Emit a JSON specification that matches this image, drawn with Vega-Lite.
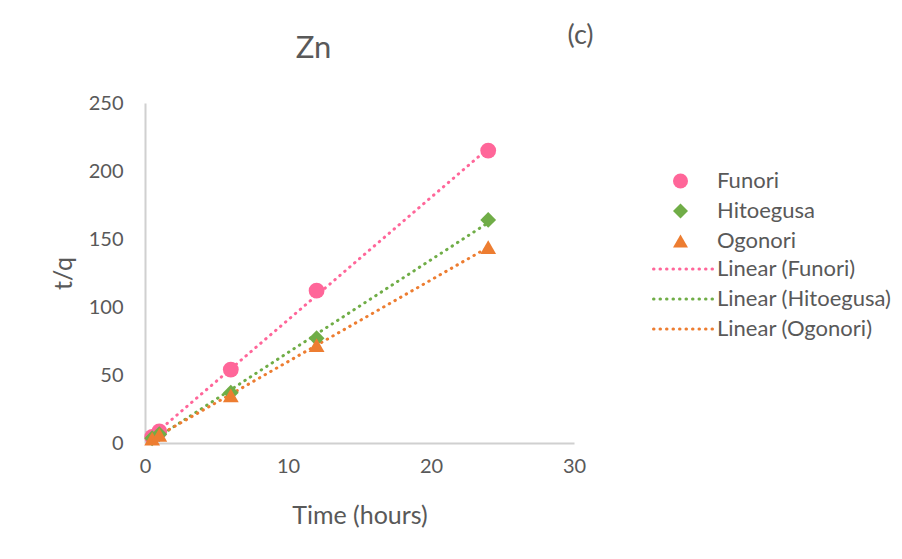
{
  "$schema": "https://vega.github.io/schema/vega-lite/v6.json",
  "autosize": "none",
  "width": 429,
  "height": 340,
  "padding": {"left": 145, "top": 103, "right": 328, "bottom": 116},
  "background": "white",
  "title": {"text": "Zn", "fontSize": 31, "font": "Lato", "fontWeight": "normal", "color": "#595959", "dx": -46, "offset": -44},
  "config": {
    "view": {"stroke": null},
    "font": "Lato",
    "axis": {"labelFont": "Lato", "labelFontSize": 20, "labelColor": "#595959", "labelFlush": false, "titleFont": "Lato", "titleFontSize": 25, "titleFontWeight": "normal", "titleColor": "#595959", "ticks": false, "grid": false, "domainColor": "#d0d0d0", "domainWidth": 2},
    "legend": {"labelFont": "Lato", "labelFontSize": 22, "labelColor": "#595959", "padding": 0, "labelLimit": 400}
  },
  "data": {"values": [
    {"time": 0.5, "value": 4.5, "series": "Funori"},
    {"time": 1, "value": 8.5, "series": "Funori"},
    {"time": 6, "value": 54, "series": "Funori"},
    {"time": 12, "value": 112, "series": "Funori"},
    {"time": 24, "value": 215, "series": "Funori"},
    {"time": 0.5, "value": 3.5, "series": "Hitoegusa"},
    {"time": 1, "value": 6.5, "series": "Hitoegusa"},
    {"time": 6, "value": 37, "series": "Hitoegusa"},
    {"time": 12, "value": 77, "series": "Hitoegusa"},
    {"time": 24, "value": 164, "series": "Hitoegusa"},
    {"time": 0.5, "value": 3.2, "series": "Ogonori"},
    {"time": 1, "value": 6, "series": "Ogonori"},
    {"time": 6, "value": 35, "series": "Ogonori"},
    {"time": 12, "value": 72, "series": "Ogonori"},
    {"time": 24, "value": 144, "series": "Ogonori"}
  ]},
  "resolve": {"axis": {"y": "independent"}},
  "layer": [
    {
      "transform": [
        {"regression": "value", "on": "time", "groupby": ["series"]},
        {"calculate": "'Linear (' + datum.series + ')'", "as": "trend"}
      ],
      "mark": {"type": "line", "strokeWidth": 3, "strokeDash": [0.5, 6], "strokeCap": "round"},
      "encoding": {
        "x": {"field": "time", "type": "quantitative", "scale": {"domain": [0, 30], "nice": false}, "axis": {"values": [0, 10, 20, 30], "title": "Time (hours)", "labelPadding": 13, "titlePadding": 27}},
        "y": {"field": "value", "type": "quantitative", "scale": {"domain": [0, 250], "nice": false}, "axis": {"orient": "right", "labels": false, "domain": false, "title": "(c)", "titleAngle": 0, "titleFontSize": 27, "titleAlign": "center", "titleBaseline": "middle", "titleX": 6, "titleY": -68}},
        "stroke": {"field": "trend", "type": "nominal", "scale": {"domain": ["Linear (Funori)", "Linear (Hitoegusa)", "Linear (Ogonori)"], "range": ["#FF6699", "#70AD47", "#ED7D31"]},
          "legend": {"title": null, "orient": "none", "legendX": 527.5, "legendY": 155, "symbolType": "M-4,0L4,0", "symbolSize": 225, "symbolStrokeWidth": 3, "symbolDash": [0.5, 6], "labelOffset": 22.5, "rowPadding": 8, "encode": {"symbols": {"update": {"strokeCap": {"value": "round"}, "fill": {"value": "transparent"}}}}}}
      }
    },
    {
      "mark": {"type": "point", "filled": true, "opacity": 1, "size": 250},
      "encoding": {
        "x": {"field": "time", "type": "quantitative", "scale": {"domain": [0, 30], "nice": false}},
        "y": {"field": "value", "type": "quantitative", "scale": {"domain": [0, 250], "nice": false}, "axis": {"values": [0, 50, 100, 150, 200, 250], "title": "t/q", "labelPadding": 22, "titlePadding": 12}},
        "color": {"field": "series", "type": "nominal", "scale": {"domain": ["Funori", "Hitoegusa", "Ogonori"], "range": ["#FF6699", "#70AD47", "#ED7D31"]},
          "legend": {"title": null, "orient": "none", "legendX": 524.5, "legendY": 67, "symbolSize": 225, "labelOffset": 25.5, "rowPadding": 8}},
        "shape": {"field": "series", "type": "nominal", "scale": {"domain": ["Funori", "Hitoegusa", "Ogonori"], "range": ["circle", "diamond", "triangle-up"]}, "legend": {"title": null, "orient": "none", "legendX": 524.5, "legendY": 67, "symbolSize": 225, "labelOffset": 25.5, "rowPadding": 8}}
      }
    }
  ]
}
